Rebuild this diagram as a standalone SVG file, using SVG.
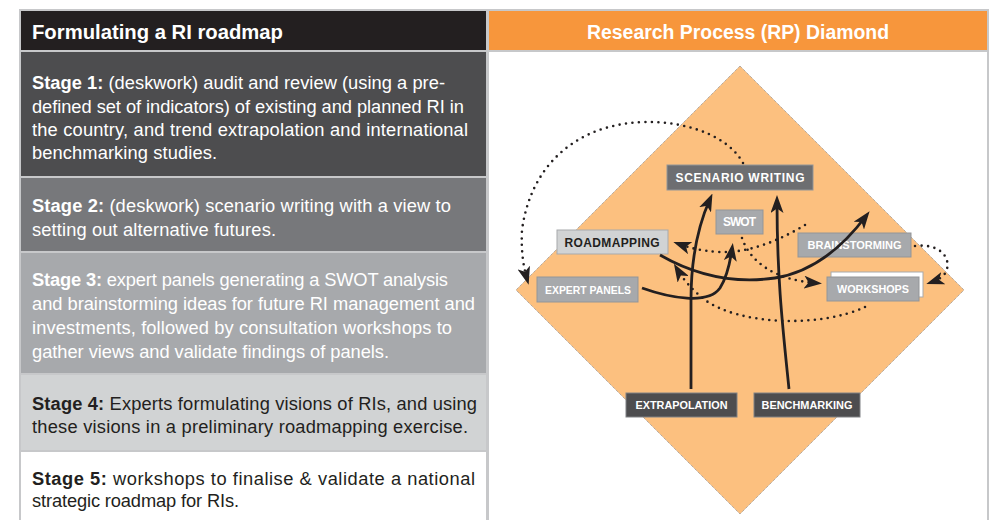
<svg xmlns="http://www.w3.org/2000/svg" width="990" height="520" viewBox="0 0 990 520">
<defs>
<style>
.hdr{font-family:"Liberation Sans",Arial,sans-serif;font-weight:bold;font-size:19.5px;fill:#ffffff}
.bt{font-family:"Liberation Sans",Arial,sans-serif;font-size:18.3px}
.w{fill:#ffffff}
.d{fill:#231f20}
.b{font-weight:bold}
.row{stroke:#c7c8ca;stroke-width:2}
.lbl{font-family:"Liberation Sans",Arial,sans-serif;font-weight:bold;font-size:12px;text-anchor:middle}
.sm{font-size:11.2px}
.solid{fill:none;stroke:#231f20;stroke-width:2.8;marker-end:url(#ah)}
.dot{fill:none;stroke:#231f20;stroke-width:2.6;stroke-dasharray:0 6.5;stroke-linecap:round;marker-end:url(#ah)}
</style>
<marker id="ah" markerUnits="userSpaceOnUse" markerWidth="18" markerHeight="13" viewBox="0 0 18 13" refX="12" refY="6.5" orient="auto">
<path d="M0,0 L18,6.5 L0,13 L4.5,6.5 z" fill="#231f20"/>
</marker>
</defs>
<rect x="0" y="0" width="990" height="520" fill="#ffffff"/>

<g id="left-panel">
<rect class="row" x="20" y="10" width="467" height="41" fill="#231f20"/>
<text class="hdr" x="32" y="39" textLength="251" lengthAdjust="spacingAndGlyphs">Formulating a RI roadmap</text>
</g>

<g id="stage1">
<rect class="row" x="20" y="51" width="467" height="126" fill="#4d4d4f"/>
<text class="bt w" x="32" y="89" textLength="413" lengthAdjust="spacing"><tspan class="b">Stage 1:</tspan> (deskwork) audit and review (using a pre-</text>
<text class="bt w" x="32" y="112.5" textLength="432" lengthAdjust="spacing">defined set of indicators) of existing and planned RI in</text>
<text class="bt w" x="32" y="136" textLength="436" lengthAdjust="spacing">the country, and trend extrapolation and international</text>
<text class="bt w" x="32" y="159.3" textLength="185" lengthAdjust="spacing">benchmarking studies.</text>
</g>

<g id="stage2">
<rect class="row" x="20" y="177" width="467" height="75" fill="#77787b"/>
<text class="bt w" x="32" y="211.5" textLength="419" lengthAdjust="spacing"><tspan class="b">Stage 2:</tspan> (deskwork) scenario writing with a view to</text>
<text class="bt w" x="32" y="235.5" textLength="244" lengthAdjust="spacing">setting out alternative futures.</text>
</g>

<g id="stage3">
<rect class="row" x="20" y="252" width="467" height="122" fill="#a7a9ac"/>
<text class="bt w" x="32" y="286.3" textLength="416" lengthAdjust="spacing"><tspan class="b">Stage 3:</tspan> expert panels generating a SWOT analysis</text>
<text class="bt w" x="32" y="310" textLength="443" lengthAdjust="spacing">and brainstorming ideas for future RI management and</text>
<text class="bt w" x="32" y="333.7" textLength="420" lengthAdjust="spacing">investments, followed by consultation workshops to</text>
<text class="bt w" x="32" y="357.5" textLength="357" lengthAdjust="spacing">gather views and validate findings of panels.</text>
</g>

<g id="stage4">
<rect class="row" x="20" y="374" width="467" height="77" fill="#d1d3d4"/>
<text class="bt d" x="32" y="410" textLength="445" lengthAdjust="spacing"><tspan class="b">Stage 4:</tspan> Experts formulating visions of RIs, and using</text>
<text class="bt d" x="32" y="433" textLength="436" lengthAdjust="spacing">these visions in a preliminary roadmapping exercise.</text>
</g>

<g id="stage5">
<rect class="row" x="20" y="451" width="467" height="75" fill="#ffffff"/>
<text class="bt d" x="32" y="485" textLength="443" lengthAdjust="spacing"><tspan class="b">Stage 5:</tspan> workshops to finalise &amp; validate a national</text>
<text class="bt d" x="32" y="507" textLength="207" lengthAdjust="spacing">strategic roadmap for RIs.</text>
</g>

<g id="right-panel">
<rect class="row" x="488" y="51" width="500" height="475" fill="#ffffff"/>
<rect class="row" x="488" y="10" width="500" height="41" fill="#f7963c"/>
<text class="hdr" x="738" y="39" text-anchor="middle" textLength="302" lengthAdjust="spacingAndGlyphs">Research Process (RP) Diamond</text>
<polygon points="740,66 964,290 740,514 516,290" fill="#fcc07f" stroke="#808285" stroke-width="0.8" stroke-dasharray="1 1"/>
</g>

<g id="scenario-writing">
<rect x="667" y="165" width="146" height="25" fill="#6d6e71" stroke="#939598" stroke-width="1"/>
<text class="lbl w" x="740" y="182" textLength="129" lengthAdjust="spacing">SCENARIO WRITING</text>
</g>
<g id="swot">
<rect x="716" y="210" width="47" height="24" fill="#a7a9ac" stroke="#939598" stroke-width="1"/>
<text class="lbl w" x="739.5" y="226.3" textLength="33" lengthAdjust="spacing">SWOT</text>
</g>
<g id="roadmapping">
<rect x="557" y="230" width="111" height="24" fill="#d1d3d4" stroke="#a7a9ac" stroke-width="1"/>
<text class="lbl d" x="612" y="246.5" textLength="95" lengthAdjust="spacing">ROADMAPPING</text>
</g>
<g id="expert-panels">
<rect x="537" y="277" width="101" height="25" fill="#a7a9ac" stroke="#939598" stroke-width="1"/>
<text class="lbl sm w" x="588" y="293.7" textLength="86" lengthAdjust="spacingAndGlyphs">EXPERT PANELS</text>
</g>
<g id="brainstorming">
<rect x="798" y="233" width="113" height="24" fill="#a7a9ac" stroke="#939598" stroke-width="1"/>
<text class="lbl sm w" x="854.5" y="249.2" textLength="94" lengthAdjust="spacingAndGlyphs">BRAINSTORMING</text>
</g>
<g id="workshops">
<rect x="831" y="272" width="92" height="25" fill="#ffffff" stroke="#a7a9ac" stroke-width="1"/>
<rect x="827" y="277" width="92" height="24" fill="#a7a9ac" stroke="#939598" stroke-width="1"/>
<text class="lbl sm w" x="873" y="293.2" textLength="72" lengthAdjust="spacingAndGlyphs">WORKSHOPS</text>
</g>
<g id="extrapolation">
<rect x="626" y="393" width="111" height="24" fill="#4d4d4f" stroke="#808285" stroke-width="1"/>
<text class="lbl sm w" x="681.5" y="409.2" textLength="92" lengthAdjust="spacingAndGlyphs">EXTRAPOLATION</text>
</g>
<g id="benchmarking">
<rect x="754" y="393" width="106" height="24" fill="#4d4d4f" stroke="#808285" stroke-width="1"/>
<text class="lbl sm w" x="807" y="409.2" textLength="91" lengthAdjust="spacingAndGlyphs">BENCHMARKING</text>
</g>

<g id="connectors">
<path class="dot" d="M743,163 C725,130 670,118 630,123 C570,130 530,170 522,230 C521,250 523,265 527,279"/>
<path class="dot" d="M805,225 C780,240 750,253 720,252 C702,251 690,248 679,244"/>
<path class="dot" d="M742,238 C750,262 775,280 816,283"/>
<path class="dot" d="M865,307 C820,328 740,325 705,300 C692,290 683,279 677,269"/>
<path class="dot" d="M915,246 C940,243 952,258 946,272 C943,277 938,280 932,282"/>
<path class="solid" d="M691,389 L691,300 C691,262 697,228 710,199"/>
<path class="solid" d="M789,389 C783,330 777,280 777,201"/>
<path class="solid" d="M642,288 C670,298 708,305 720,288 C727,277 730,263 732,249"/>
<path class="solid" d="M660,255 C700,278 740,283 775,278 C812,272 842,248 866,216"/>
</g>
</svg>
